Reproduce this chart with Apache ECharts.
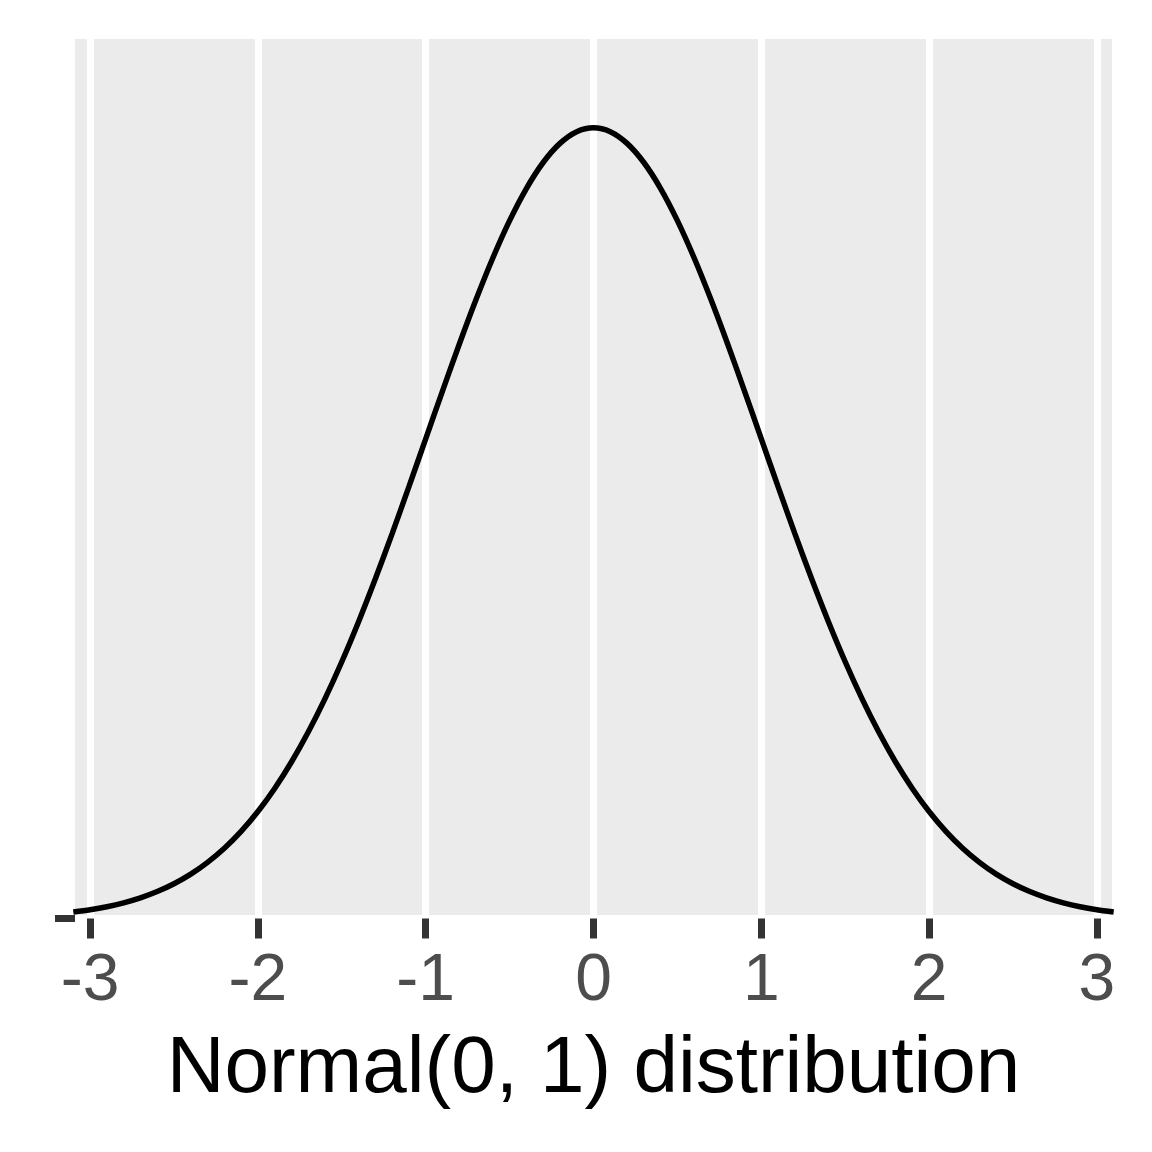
<!DOCTYPE html>
<html>
<head>
<meta charset="utf-8">
<script src="https://cdn.jsdelivr.net/npm/echarts@6/dist/echarts.min.js"></script>
<style>
  html, body { margin: 0; padding: 0; background: #ffffff; }
  #chart { width: 1152px; height: 1152px; }
</style>
</head>
<body>
<div id="chart"></div>
<script>
// Data (standard normal density curve)
const xValues = [
  -3.1, -3.0, -2.9, -2.8, -2.7, -2.6, -2.5, -2.4, -2.3, -2.2, -2.1,
  -2.0, -1.9, -1.8, -1.7, -1.6, -1.5, -1.4, -1.3, -1.2, -1.1,
  -1.0, -0.9, -0.8, -0.7, -0.6, -0.5, -0.4, -0.3, -0.2, -0.1,
  0.0,
  0.1, 0.2, 0.3, 0.4, 0.5, 0.6, 0.7, 0.8, 0.9, 1.0,
  1.1, 1.2, 1.3, 1.4, 1.5, 1.6, 1.7, 1.8, 1.9, 2.0,
  2.1, 2.2, 2.3, 2.4, 2.5, 2.6, 2.7, 2.8, 2.9, 3.0, 3.1
];
const densityValues = [
  0.00327, 0.00443, 0.00595, 0.00792, 0.01042, 0.01358, 0.01753, 0.02239, 0.02833, 0.03547, 0.04398,
  0.05399, 0.06562, 0.07895, 0.09405, 0.11092, 0.12952, 0.14973, 0.17137, 0.19419, 0.21785,
  0.24197, 0.26609, 0.28969, 0.31225, 0.33322, 0.35207, 0.36827, 0.38139, 0.39104, 0.39695,
  0.39894,
  0.39695, 0.39104, 0.38139, 0.36827, 0.35207, 0.33322, 0.31225, 0.28969, 0.26609, 0.24197,
  0.21785, 0.19419, 0.17137, 0.14973, 0.12952, 0.11092, 0.09405, 0.07895, 0.06562, 0.05399,
  0.04398, 0.03547, 0.02833, 0.02239, 0.01753, 0.01358, 0.01042, 0.00792, 0.00595, 0.00443, 0.00327
];
const xTickValues = [-3, -2, -1, 0, 1, 2, 3];
const yTickValues = [0];
const xRange = [-3.09, 3.09];
const yRange = [0, 0.4437];
const xAxisTitle = 'Normal(0, 1) distribution';

const points = xValues.map((x, i) => [x, densityValues[i]]);
const fontFamily = '"Liberation Sans", Arial, Helvetica, sans-serif';

const chart = echarts.init(document.getElementById('chart'), null, { renderer: 'canvas' });
chart.setOption({
  animation: false,
  backgroundColor: '#ffffff',
  grid: [
    { left: 75, right: 40, top: 39, bottom: 237, show: true, backgroundColor: '#EBEBEB', borderWidth: 0, containLabel: false },
    { left: 75, right: 40, top: 39, bottom: 233.5, show: false, containLabel: false }
  ],
  xAxis: [
    {
      gridIndex: 0, type: 'value', min: xRange[0], max: xRange[1], position: 'bottom',
      axisLine: { show: false, onZero: false },
      axisTick: { show: false, customValues: xTickValues },
      axisLabel: { show: false, customValues: xTickValues },
      splitLine: { show: true, lineStyle: { color: '#ffffff', width: 7 } }
    },
    {
      gridIndex: 1, type: 'value', min: xRange[0], max: xRange[1], position: 'bottom',
      axisLine: { show: false, onZero: false },
      axisTick: { show: true, customValues: xTickValues, length: 20, lineStyle: { color: '#333333', width: 7 } },
      axisLabel: {
        show: true, customValues: xTickValues, margin: 30,
        color: '#4D4D4D', fontSize: 66, fontFamily: fontFamily,
        showMinLabel: true, showMaxLabel: true
      },
      splitLine: { show: false },
      name: xAxisTitle, nameLocation: 'middle', nameGap: 111,
      nameTextStyle: { color: '#000000', fontSize: 80, fontFamily: fontFamily }
    }
  ],
  yAxis: [
    {
      gridIndex: 0, type: 'value', min: 0, max: 1, show: false,
      splitLine: { show: false }
    },
    {
      gridIndex: 1, type: 'value', min: yRange[0], max: yRange[1], position: 'left',
      axisLine: { show: false, onZero: false },
      axisTick: { show: true, customValues: yTickValues, length: 20, lineStyle: { color: '#333333', width: 7 } },
      axisLabel: { show: false, customValues: yTickValues },
      splitLine: { show: false }
    }
  ],
  series: [
    {
      type: 'line',
      xAxisIndex: 1, yAxisIndex: 1,
      data: points,
      showSymbol: false,
      smooth: 0.3,
      clip: true,
      lineStyle: { color: '#000000', width: 5.5 }
    }
  ]
});
</script>
</body>
</html>
